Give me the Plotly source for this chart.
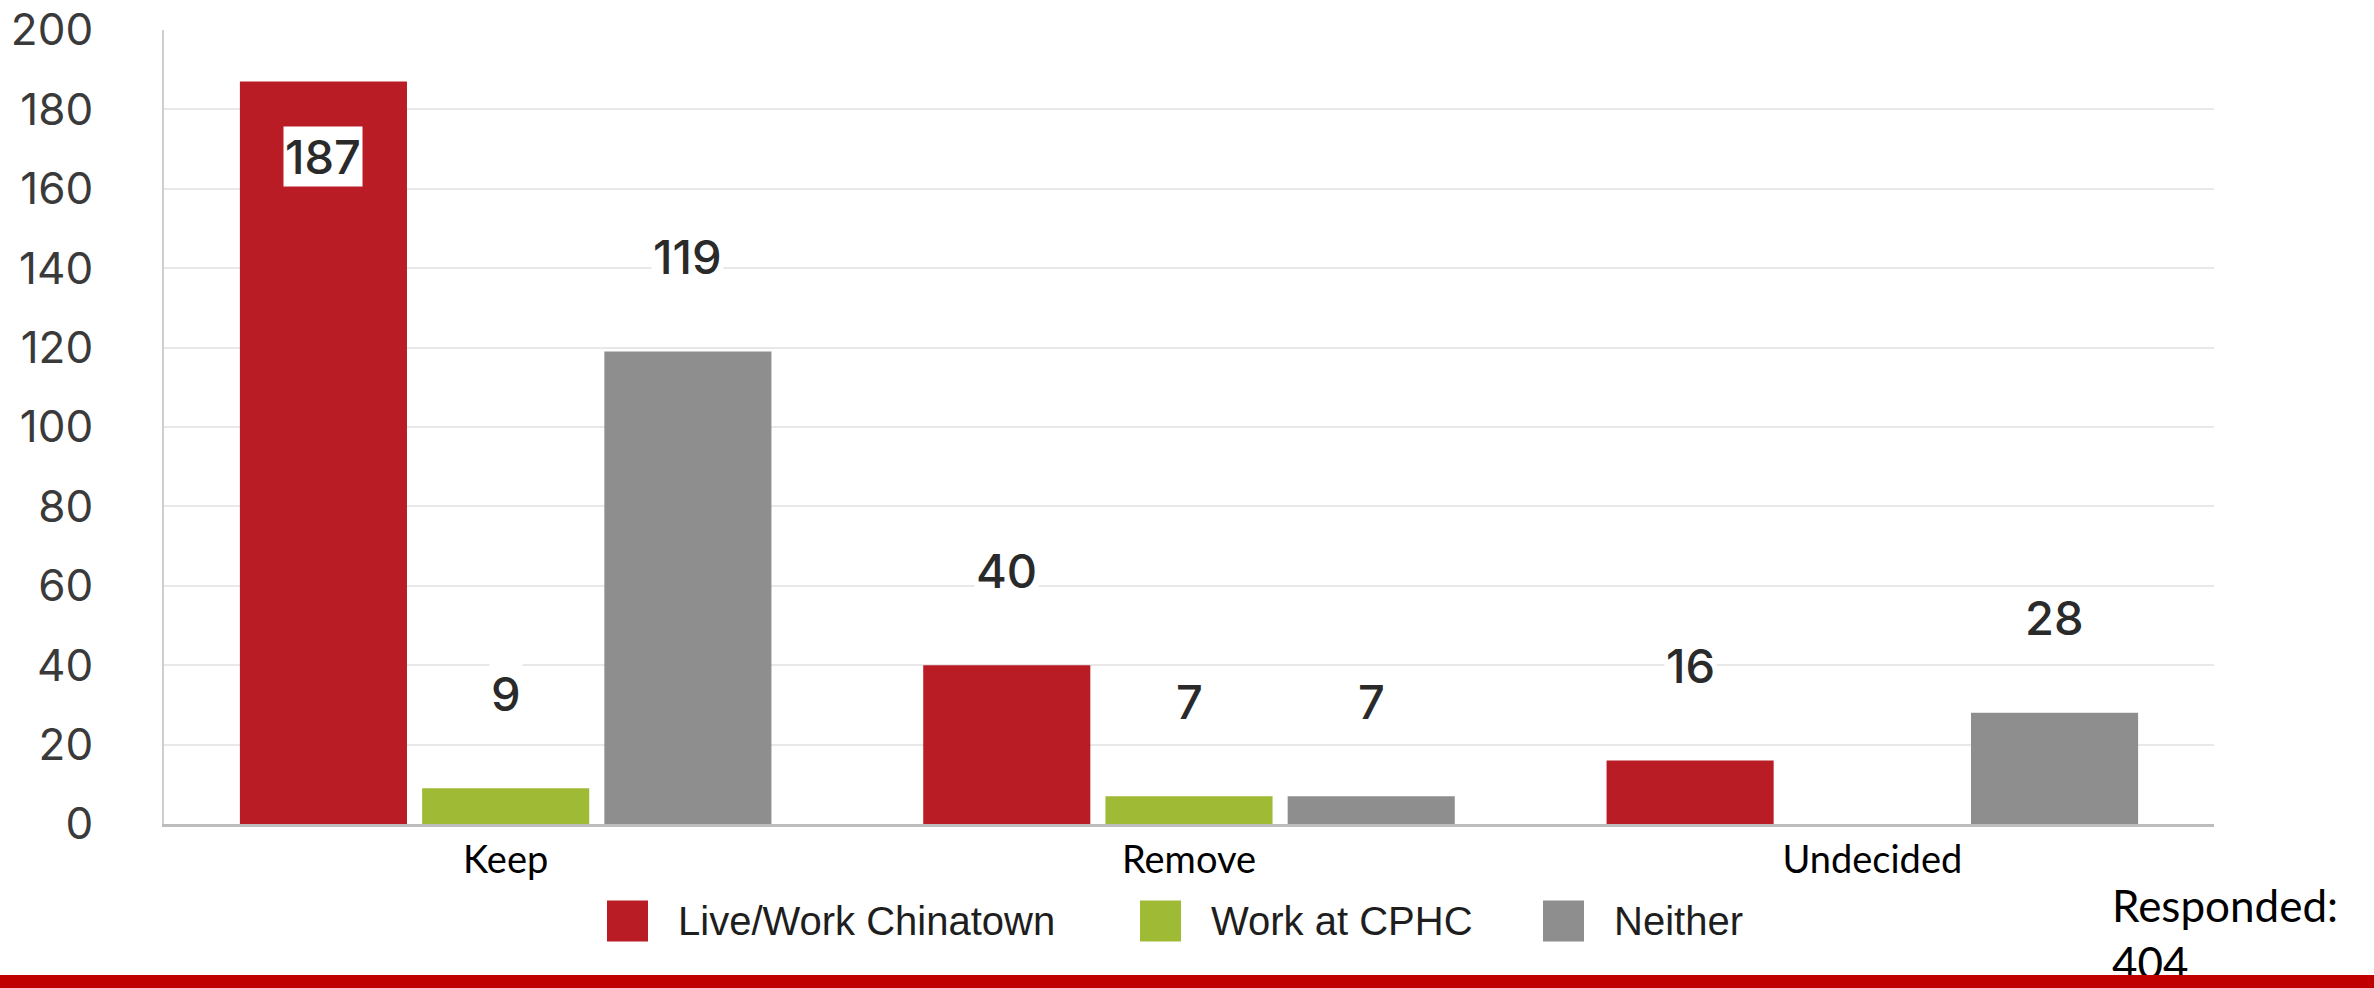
import plotly.graph_objects as go

# ---------------- data ----------------
categories = ["Keep", "Remove", "Undecided"]
series_names = ["Live/Work Chinatown", "Work at CPHC", "Neither"]
live_work_chinatown = [187, 40, 16]
work_at_cphc = [9, 7, None]
neither = [119, 7, 28]
y_tick_values = [0, 20, 40, 60, 80, 100, 120, 140, 160, 180, 200]
responded_label = "Responded:"
responded_total = 404

series_values = [live_work_chinatown, work_at_cphc, neither]

# ---------------- style / layout ----------------
colors = ["#BA1C26", "#9FBB36", "#8E8E8E"]
W, H = 2374, 988
L, R = 164, 2214          # plot area left/right (px)
T, B = 30, 824            # plot area top/bottom (px)
plot_w, plot_h = R - L, B - T
y_max = 200
bargap, bargroupgap = 0.2, 0.083


def px2x(px):
    return (px - L) / plot_w


def py2y(py):
    return (B - py) / plot_h


fig = go.Figure()
for name, vals, c in zip(series_names, series_values, colors):
    fig.add_trace(go.Bar(
        x=categories, y=vals, name=name,
        marker=dict(color=c, line=dict(width=0)),
        showlegend=False, hoverinfo="x+y+name",
    ))

# value labels
n = len(series_values)
slot_px = plot_w / len(categories) * (1 - bargap) / n
px_per_unit = plot_h / y_max
label_font = dict(family="Inter", size=47, color="#2A2A2A", weight=500)
for j, vals in enumerate(series_values):
    for cat, v in zip(categories, vals):
        if v is None:
            continue
        outside_shift = 95
        inside = v + (outside_shift + 25) / px_per_unit > y_max
        fig.add_annotation(
            x=cat, y=v, xref="x", yref="y", text=str(v), showarrow=False,
            xshift=(j - (n - 1) / 2) * slot_px,
            yshift=-75 if inside else outside_shift,
            yanchor="middle", xanchor="center",
            font=label_font, bgcolor="white", borderpad=1,
        )

# custom legend (large square swatches)
legend_left_px = [607, 1140, 1543]
swatch = 41
legend_cy = 921
for name, c, lx in zip(series_names, colors, legend_left_px):
    fig.add_shape(
        type="rect", xref="paper", yref="paper",
        x0=px2x(lx), x1=px2x(lx + swatch),
        y0=py2y(legend_cy + swatch / 2), y1=py2y(legend_cy - swatch / 2),
        fillcolor=c, line=dict(width=0),
    )
    fig.add_annotation(
        x=px2x(lx + swatch + 28), y=py2y(legend_cy), xref="paper", yref="paper",
        text=name, showarrow=False, xanchor="left", yanchor="middle",
        font=dict(family="Liberation Sans", size=40, color="#1E1E1E"),
    )

# responded note
fig.add_annotation(
    x=px2x(2110), y=py2y(877), xref="paper", yref="paper",
    text=f"{responded_label}<br>{responded_total}", showarrow=False,
    xanchor="left", yanchor="top", align="left",
    font=dict(family="Lato", size=44, color="#000000"),
)

# red band at bottom (drawn as annotation so it sits over the note)
fig.add_annotation(
    x=px2x(W / 2), y=py2y(H), xref="paper", yref="paper",
    text=" ", showarrow=False, xanchor="center", yanchor="bottom",
    width=W + 10, height=13, bgcolor="#C00000", borderpad=0, borderwidth=0,
)

fig.update_layout(
    width=W, height=H,
    margin=dict(l=L, r=W - R, t=T, b=H - B, pad=0, autoexpand=False),
    barmode="group", bargap=bargap, bargroupgap=bargroupgap,
    plot_bgcolor="white", paper_bgcolor="white",
    showlegend=False,
)
fig.update_xaxes(
    range=[-0.5, 2.5], showline=True, linecolor="#BDBDBD", linewidth=3,
    ticks="", showgrid=False, automargin=False,
    tickfont=dict(family="Lato", size=38, color="#000000"),
    ticklabelstandoff=0,
)
fig.update_yaxes(
    range=[0, y_max], tickvals=y_tick_values, automargin=False,
    showgrid=True, gridcolor="#E8E8E8", gridwidth=2,
    showline=True, linecolor="#CFCFCF", linewidth=2, zeroline=False,
    ticks="", tickfont=dict(family="Inter", size=44, color="#3A3A3A"),
    ticklabelstandoff=60, ticklabeloverflow="allow",
)

fig.write_html(
    "out.html",
    config={"displayModeBar": False},
    post_script="document.body.style.margin='0';document.body.style.overflow='hidden';",
)
